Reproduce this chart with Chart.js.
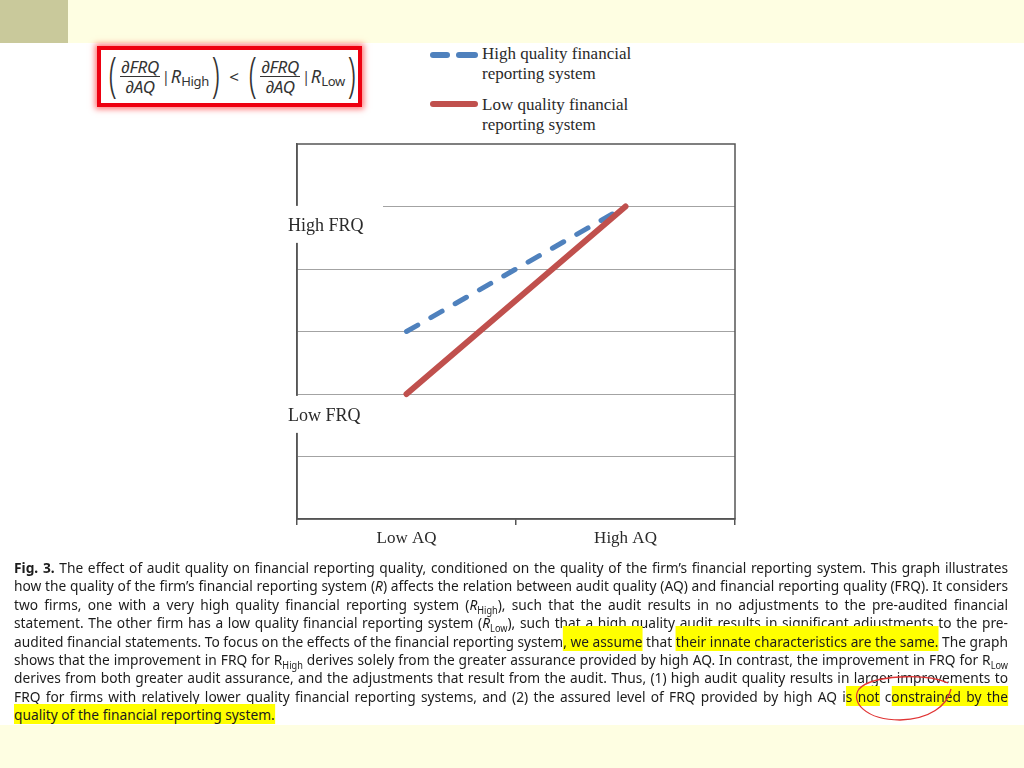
<!DOCTYPE html>
<html>
<head>
<meta charset="utf-8">
<script src="https://cdn.jsdelivr.net/npm/chart.js@4.4.1/dist/chart.umd.min.js"></script>
<style>
  html, body { margin: 0; padding: 0; }
  body { width: 1024px; height: 768px; position: relative; overflow: hidden; background: #fefee2; }
  #corner { position: absolute; left: 0; top: 0; width: 68px; height: 43px; background: #c9c99b; }
  #page { position: absolute; left: 0; top: 43px; width: 1024px; height: 682px; background: #fff; }
  #formula {
    position: absolute; left: 97px; top: 46px; width: 252px; height: 53px;
    border: 4px solid #ee0010; box-shadow: 0 0 6px 2px rgba(255, 0, 0, 0.55);
    background: #fff; display: flex; align-items: center; padding-left: 5px;
    font-family: "Noto Sans", sans-serif; color: #333; font-size: 17px; overflow: hidden;
  }
  #formula .par { font-size: 48px; font-weight: 300; line-height: 1; transform: scaleX(0.6); margin: -8px 0 0 0; }
  #formula .frac { display: inline-flex; flex-direction: column; align-items: center; font-style: italic; line-height: 19px; margin: 0 1px; letter-spacing: -0.2px; }
  #formula .frac span:first-child { border-bottom: 1px solid #333; padding: 0 1px; }
  #formula .bar { font-size: 14px; margin: 0 1px 0 1px; }
  #formula .r { font-style: italic; font-size: 18px; }
  #formula sub { font-style: normal; font-size: 13px; vertical-align: -3px; letter-spacing: -0.3px; }
  #formula .lt { margin: 0 7px; font-size: 17px; }
  .sw { position: absolute; height: 6px; border-radius: 3px; }
  .leg { position: absolute; left: 482px; font-family: "Liberation Serif", serif; font-size: 17px; line-height: 20px; color: #2a2a2a; }
  #chartWrap { position: absolute; left: 280px; top: 140px; width: 470px; height: 420px; }
  #caption { position: absolute; left: 14px; top: 558px; width: 994px; font-family: "Noto Sans", sans-serif; font-size: 15px; color: #1c1c1c; }
  .cap-line { height: 18.4px; line-height: 18.4px; white-space: nowrap; }
  .cap-line > span.in { display: inline-block; transform-origin: 0 50%; }
  .hl { background: #ffff00; }
  .hl-tall { background: #ffff00; padding-top: 5px; }
  #ink { position: absolute; left: 0; top: 0; pointer-events: none; }
</style>
</head>
<body>
<div id="corner"></div>
<div id="page"></div>

<div id="formula">
  <span class="par">(</span>
  <span class="frac"><span>∂FRQ</span><span>∂AQ</span></span>
  <span class="bar">|</span><span class="r">R<sub>High</sub></span>
  <span class="par">)</span>
  <span class="lt">&lt;</span>
  <span class="par">(</span>
  <span class="frac"><span>∂FRQ</span><span>∂AQ</span></span>
  <span class="bar">|</span><span class="r">R<sub>Low</sub></span>
  <span class="par">)</span>
</div>

<div class="sw" style="left:430px; top:52px; width:20px; background:#4f81bd;"></div>
<div class="sw" style="left:456px; top:52px; width:22px; background:#4f81bd;"></div>
<div class="leg" style="top:44px;">High quality financial<br>reporting system</div>
<div class="sw" style="left:430px; top:101px; width:48px; background:#c0504d;"></div>
<div class="leg" style="top:95px;">Low quality financial<br>reporting system</div>

<div id="chartWrap"><canvas id="chart" width="470" height="420"></canvas></div>

<div id="caption">
  <div class="cap-line"><span class="in"><b>Fig. 3.</b> The effect of audit quality on financial reporting quality, conditioned on the quality of the firm’s financial reporting system. This graph illustrates</span></div>
  <div class="cap-line"><span class="in">how the quality of the firm’s financial reporting system (<i>R</i>) affects the relation between audit quality (AQ) and financial reporting quality (FRQ). It considers</span></div>
  <div class="cap-line"><span class="in">two firms, one with a very high quality financial reporting system (<i>R</i><sub style="font-size:10px">High</sub>), such that the audit results in no adjustments to the pre-audited financial</span></div>
  <div class="cap-line"><span class="in">statement. The other firm has a low quality financial reporting system (<i>R</i><sub style="font-size:10px">Low</sub>), such that a high quality audit results in significant adjustments to the pre-</span></div>
  <div class="cap-line"><span class="in">audited financial statements. To focus on the effects of the financial reporting system<span class="hl-tall">, we assume</span> that <span class="hl-tall">their innate characteristics are the same.</span> The graph</span></div>
  <div class="cap-line"><span class="in">shows that the improvement in FRQ for R<sub style="font-size:10px">High</sub> derives solely from the greater assurance provided by high AQ. In contrast, the improvement in FRQ for R<sub style="font-size:10px">Low</sub></span></div>
  <div class="cap-line"><span class="in">derives from both greater audit assurance, and the adjustments that result from the audit. Thus, (1) high audit quality results in larger improvements to</span></div>
  <div class="cap-line"><span class="in">FRQ for firms with relatively lower quality financial reporting systems, and (2) the assured level of FRQ provided by high AQ i<span class="hl">s not</span> c<span class="hl">onstrained by the</span></span></div>
  <div class="cap-line last"><span class="in"><span class="hl">quality of the financial reporting system.</span></span></div>
</div>

<svg id="ink" width="1024" height="768">
  <path d="M 948 683 C 925 673, 872 675, 859 689 C 850 702, 866 720, 900 720 C 930 719, 947 706, 951 689"
        fill="none" stroke="#e03535" stroke-width="1.3"/>
</svg>

<script>
  // chart values
  const categories = ['Low AQ', 'High AQ'];
  const highQualityFRQ = [3, 5];
  const lowQualityFRQ = [2, 5];
  const frqLabels = ['High FRQ', 'Low FRQ'];
  const frqLabelValues = [4.69, 1.65];

  // fit caption lines to the column width
  const capLines = document.querySelectorAll('.cap-line');
  const colWidth = 994;
  let widths = [];
  capLines.forEach(l => widths.push(l.firstElementChild.getBoundingClientRect().width));
  const s0 = Math.min(...widths.slice(0, 8).map(w => colWidth / w));
  capLines.forEach((l, i) => {
    const inner = l.firstElementChild;
    if (!l.classList.contains('last')) {
      const spaces = (inner.textContent.match(/ /g) || []).length;
      const extra = (colWidth / s0 - widths[i]) / spaces;
      inner.style.wordSpacing = extra + 'px';
    }
    inner.style.transform = 'scaleX(' + s0 + ')';
  });

  const frameAndLabels = {
    id: 'frameAndLabels',
    beforeDatasetsDraw(chart) {
      const { ctx, chartArea: a, scales: { y } } = chart;
      ctx.save();
      ctx.strokeStyle = '#555';
      ctx.lineWidth = 1.5;
      ctx.strokeRect(a.left, a.top, a.right - a.left, a.bottom - a.top);
      ctx.font = '18px "Liberation Serif", serif';
      ctx.textBaseline = 'middle';
      frqLabels.forEach((t, i) => {
        const py = y.getPixelForValue(frqLabelValues[i]);
        ctx.fillStyle = '#fff';
        ctx.fillRect(a.left - 14, py - 20, 100, 37);
        ctx.fillStyle = '#2a2a2a';
        ctx.fillText(t, a.left - 9, py);
      });
      ctx.restore();
    }
  };

  new Chart(document.getElementById('chart'), {
    type: 'line',
    data: {
      labels: categories,
      datasets: [
        {
          label: 'High quality financial reporting system',
          data: highQualityFRQ,
          borderColor: '#4f81bd',
          borderWidth: 5,
          borderDash: [13, 15],
          borderCapStyle: 'round',
          pointRadius: 0,
          order: 1
        },
        {
          label: 'Low quality financial reporting system',
          data: lowQualityFRQ,
          borderColor: '#c0504d',
          borderWidth: 6,
          borderCapStyle: 'round',
          pointRadius: 0,
          order: 0
        }
      ]
    },
    options: {
      responsive: false,
      animation: false,
      layout: { padding: { top: 4, right: 15, left: 0, bottom: 0 } },
      plugins: { legend: { display: false }, tooltip: { enabled: false } },
      scales: {
        x: {
          offset: true,
          grid: { offset: true, drawOnChartArea: false, drawTicks: true, tickLength: 6, color: '#555', lineWidth: 1.5 },
          border: { color: '#555', width: 1.5 },
          ticks: { color: '#2a2a2a', padding: 3, font: { family: 'Liberation Serif', size: 17 } },
          afterFit(scale) { scale.height = 41; }
        },
        y: {
          min: 0,
          max: 6,
          ticks: { stepSize: 1, display: false },
          grid: {
            drawTicks: false,
            color: c => (c.tick && c.tick.value > 0 && c.tick.value < 6) ? '#a3a3a3' : 'rgba(0,0,0,0)',
            lineWidth: 1
          },
          border: { color: '#555', width: 1.5 },
          afterFit(scale) { scale.width = 17; }
        }
      }
    },
    plugins: [frameAndLabels]
  });
</script>
</body>
</html>
